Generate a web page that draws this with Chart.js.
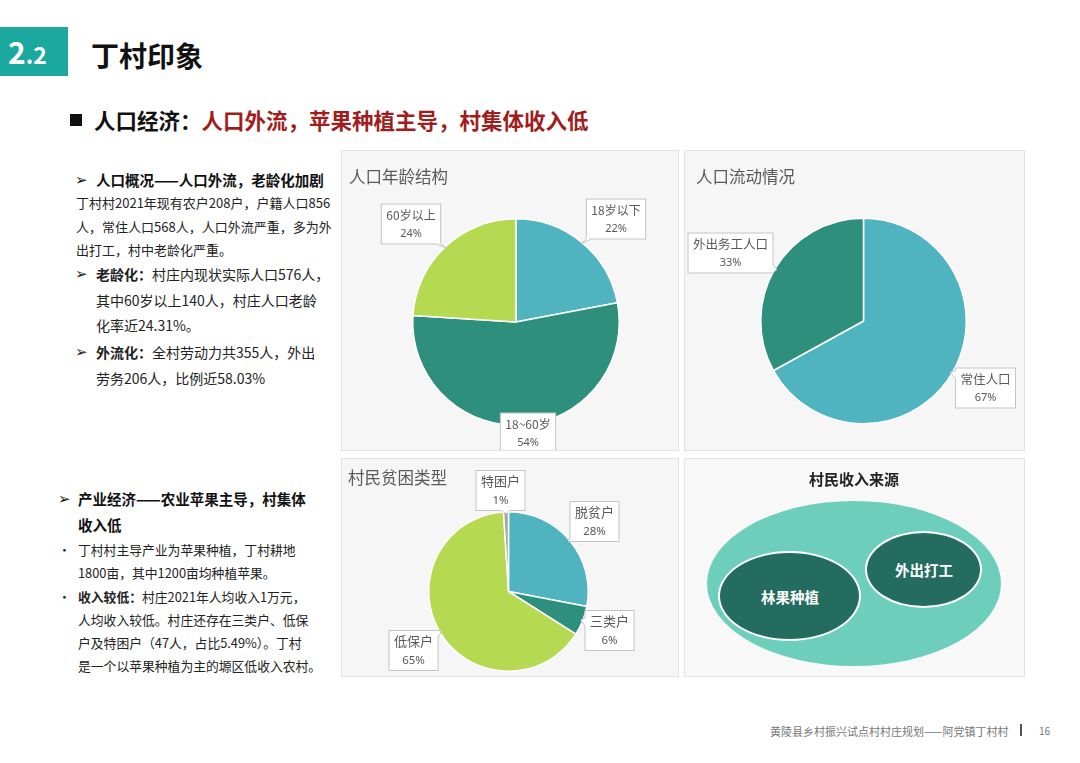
<!DOCTYPE html>
<html>
<head>
<meta charset="utf-8">
<script src="https://cdn.jsdelivr.net/npm/chart.js@4"></script>
<style>
  body { margin: 0; background: #fff; font-family: "Noto Sans CJK SC", "Noto Sans", sans-serif; }
  #page { position: relative; width: 1080px; height: 763px; overflow: hidden; }
  .abs { position: absolute; white-space: nowrap; }
  .arrow { font-family: "DejaVu Sans", sans-serif; font-size: 15px; }
  .panel { position: absolute; background: #f6f6f6; border: 1px solid #e2e2e2; box-sizing: border-box; }
  .ptitle { position: absolute; color: #595959; font-size: 16.5px; line-height: 1; }
  .ellipse { position: absolute; border-radius: 50%; box-sizing: border-box; }
  .etext { position: absolute; color: #fff; font-weight: bold; font-size: 14.5px; transform: translate(-50%, -50%); white-space: nowrap; }
  b { font-weight: bold; }
</style>
</head>
<body>
<div id="page">
  <div class="abs" style="left:0;top:27px;width:68px;height:49px;background:#1ba89e;"></div>
  <div class="abs" style="left:8px;top:31px;color:#fff;font-weight:bold;font-size:30px;line-height:40px;">2<span style="font-size:23px;">.2</span></div>
  <div class="abs" style="left:91px;top:36px;font-weight:bold;font-size:28px;line-height:38px;color:#111;">丁村印象</div>

  <div class="abs" style="left:70px;top:114px;width:12px;height:12px;background:#111;"></div>
  <div class="abs" style="left:94px;top:106px;font-weight:bold;font-size:21.5px;line-height:28px;color:#111;">人口经济：<span style="color:#a11c1c;">人口外流，苹果种植主导，村集体收入低</span></div>

  <div class="abs arrow" style="left:75px;top:170px;line-height:20px;color:#111;">➢</div>
  <div class="abs" style="left:96px;top:170px;font-size:14.5px;line-height:20px;color:#111;font-weight:bold;">人口概况——人口外流，老龄化加剧</div>
  <div class="abs" style="left:76px;top:191px;font-size:13px;line-height:23.5px;color:#222;">丁村村2021年现有农户208户，户籍人口856<br>人，常住人口568人，人口外流严重，多为外<br>出打工，村中老龄化严重。</div>
  <div class="abs arrow" style="left:75px;top:262px;line-height:25.5px;color:#222;">➢</div>
  <div class="abs" style="left:96px;top:262px;font-size:14px;line-height:25.5px;color:#222;"><b>老龄化：</b>村庄内现状实际人口576人，<br>其中60岁以上140人，村庄人口老龄<br>化率近24.31%。</div>
  <div class="abs arrow" style="left:75px;top:340px;line-height:25.5px;color:#222;">➢</div>
  <div class="abs" style="left:96px;top:340px;font-size:14px;line-height:25.5px;color:#222;"><b>外流化：</b>全村劳动力共355人，外出<br>劳务206人，比例近58.03%</div>

  <div class="abs arrow" style="left:58px;top:486px;line-height:26px;color:#111;">➢</div>
  <div class="abs" style="left:78px;top:486px;font-size:14.5px;line-height:26px;color:#111;font-weight:bold;">产业经济——农业苹果主导，村集体<br>收入低</div>
  <div class="abs" style="left:58px;top:538px;font-size:12.8px;line-height:23px;color:#222;">•</div>
  <div class="abs" style="left:78px;top:538px;font-size:12.8px;line-height:23px;color:#222;">丁村村主导产业为苹果种植，丁村耕地<br>1800亩，其中1200亩均种植苹果。</div>
  <div class="abs" style="left:58px;top:585px;font-size:12.8px;line-height:23px;color:#222;">•</div>
  <div class="abs" style="left:78px;top:585px;font-size:12.8px;line-height:23px;color:#222;"><b>收入较低：</b>村庄2021年人均收入1万元，<br>人均收入较低。村庄还存在三类户、低保<br>户及特困户（47人，占比5.49%）。丁村<br>是一个以苹果种植为主的塬区低收入农村。</div>

  <div class="panel" style="left:341px;top:150px;width:338px;height:301px;"><div style="position:absolute;left:0;top:0;width:336px;height:299px;"><canvas id="agePie"></canvas></div></div>
  <div class="ptitle" style="left:349px;top:168px;">人口年龄结构</div>
  <div class="panel" style="left:684px;top:150px;width:341px;height:301px;"><div style="position:absolute;left:0;top:0;width:339px;height:299px;"><canvas id="flowPie"></canvas></div></div>
  <div class="ptitle" style="left:696px;top:168px;">人口流动情况</div>
  <div class="panel" style="left:341px;top:458px;width:338px;height:219px;"><div style="position:absolute;left:0;top:0;width:336px;height:217px;"><canvas id="povertyPie"></canvas></div></div>
  <div class="ptitle" style="left:348px;top:469px;">村民贫困类型</div>

  <div class="panel" style="left:684px;top:458px;width:341px;height:219px;background:#f8f8f8;"></div>
  <div class="abs" style="left:854px;top:470px;transform:translateX(-50%);font-weight:bold;font-size:15px;line-height:18px;color:#222;">村民收入来源</div>
  <div class="ellipse" style="left:707px;top:501px;width:294px;height:165px;background:#6dcebc;"></div>
  <div class="ellipse" style="left:718px;top:551px;width:143px;height:90px;background:#246c5f;border:2px solid #fff;"></div>
  <div class="ellipse" style="left:865px;top:531px;width:117px;height:77px;background:#246c5f;border:2px solid #fff;"></div>
  <div class="etext" style="left:790px;top:596px;">林果种植</div>
  <div class="etext" style="left:924px;top:569px;">外出打工</div>

  <div class="abs" style="left:770px;top:724px;font-size:11px;line-height:14px;color:#777;">黄陵县乡村振兴试点村村庄规划——阿党镇丁村村</div>
  <div class="abs" style="left:1020px;top:724px;width:2px;height:12px;background:#555;"></div>
  <div class="abs" style="left:1039px;top:724px;font-size:10px;line-height:14px;color:#777;">16</div>
</div>

<script>
const ageLabels = ['18岁以下', '18~60岁', '60岁以上'];
const ageValues = [22, 54, 24];

const flowLabels = ['常住人口', '外出务工人口'];
const flowValues = [67, 33];

const povertyLabels = ['脱贫户', '三类户', '低保户', '特困户'];
const povertyValues = [28, 6, 65, 1];

const TEAL = '#50b4c0';
const DARK = '#2e8f7c';
const LIME = '#b5d950';
const GREY = '#a6a6a6';

// draws a white callout box with a small tail toward the slice edge
function drawCallout(ctx, x, y, w, h, tx, ty) {
  ctx.save();
  ctx.fillStyle = '#fff';
  ctx.strokeStyle = '#c4c4c4';
  ctx.lineWidth = 1;
  ctx.fillRect(x - w / 2, y - h / 2, w, h);
  ctx.strokeRect(x - w / 2, y - h / 2, w, h);

  const dx = tx - x, dy = ty - y;
  const sx = dx !== 0 ? (w / 2) / Math.abs(dx) : Infinity;
  const sy = dy !== 0 ? (h / 2) / Math.abs(dy) : Infinity;
  const s = Math.min(sx, sy);
  if (s < 1) {
    const px = x + dx * s, py = y + dy * s;
    const len = Math.hypot(dx, dy);
    const ux = dx / len, uy = dy / len;
    const tip = Math.min(8, len * (1 - s));
    let b1, b2;
    if (sx < sy) {
      b1 = [px, Math.max(y - h / 2, py - 4)];
      b2 = [px, Math.min(y + h / 2, py + 4)];
    } else {
      b1 = [Math.max(x - w / 2, px - 4), py];
      b2 = [Math.min(x + w / 2, px + 4), py];
    }
    ctx.beginPath();
    ctx.moveTo(b1[0], b1[1]);
    ctx.lineTo(px + ux * tip, py + uy * tip);
    ctx.lineTo(b2[0], b2[1]);
    ctx.closePath();
    ctx.fill();
    ctx.strokeStyle = '#fff';
    ctx.lineWidth = 1.5;
    ctx.beginPath();
    ctx.moveTo(b1[0], b1[1]);
    ctx.lineTo(b2[0], b2[1]);
    ctx.stroke();
    ctx.strokeStyle = '#c4c4c4';
    ctx.lineWidth = 1;
    ctx.beginPath();
    ctx.moveTo(b1[0], b1[1]);
    ctx.lineTo(px + ux * tip, py + uy * tip);
    ctx.lineTo(b2[0], b2[1]);
    ctx.stroke();
  }
  ctx.restore();
}

const calloutPlugin = {
  id: 'callouts',
  afterDatasetsDraw(chart, args, opts) {
    const ctx = chart.ctx;
    const meta = chart.getDatasetMeta(0);
    const labels = chart.data.labels;
    const values = chart.data.datasets[0].data;
    meta.data.forEach((arc, i) => {
      const p = arc.getProps(['x', 'y', 'outerRadius', 'startAngle', 'endAngle'], true);
      const mid = (p.startAngle + p.endAngle) / 2;
      const ax = p.x + Math.cos(mid) * (p.outerRadius - 2);
      const ay = p.y + Math.sin(mid) * (p.outerRadius - 2);
      const off = opts.offsets[i];
      const bx = p.x + off[0], by = p.y + off[1];
      ctx.font = opts.nameSize + 'px "Noto Sans CJK SC", sans-serif';
      const w = ctx.measureText(labels[i]).width + 10;
      const h = 40;
      drawCallout(ctx, bx, by, w, h, ax, ay);
      ctx.save();
      ctx.fillStyle = '#595959';
      ctx.textAlign = 'center';
      ctx.textBaseline = 'middle';
      ctx.font = opts.nameSize + 'px "Noto Sans CJK SC", sans-serif';
      ctx.fillText(labels[i], bx, by - 9);
      ctx.font = opts.pctSize + 'px "Noto Sans", sans-serif';
      ctx.fillText(values[i] + '%', bx, by + 10);
      ctx.restore();
    });
  }
};

function makePie(id, labels, values, colors, padding, offsets, nameSize, pctSize) {
  new Chart(document.getElementById(id), {
    type: 'pie',
    data: {
      labels: labels,
      datasets: [{
        data: values,
        backgroundColor: colors,
        borderColor: '#ffffff',
        borderWidth: 1.5
      }]
    },
    options: {
      responsive: true,
      maintainAspectRatio: false,
      animation: false,
      layout: { padding: padding },
      plugins: {
        legend: { display: false },
        tooltip: { enabled: false },
        callouts: { offsets: offsets, nameSize: nameSize, pctSize: pctSize }
      }
    },
    plugins: [calloutPlugin]
  });
}

// label box offsets from the pie centre, in slice order
makePie('agePie', ageLabels, ageValues, [TEAL, DARK, LIME],
  { left: 70, top: 67, right: 58, bottom: 24 },
  [[100, -103], [12, 111], [-105, -98]], 12, 11);

makePie('flowPie', flowLabels, flowValues, [TEAL, DARK],
  { left: 75, top: 66, right: 57, bottom: 25 },
  [[122, 67], [-133, -68]], 12.5, 11);

makePie('povertyPie', povertyLabels, povertyValues, [TEAL, DARK, LIME, GREY],
  { left: 86, top: 52, right: 89, bottom: 4 },
  [[86, -70], [101, 39], [-95, 59], [-8, -101]], 13, 11.5);
</script>
</body>
</html>
